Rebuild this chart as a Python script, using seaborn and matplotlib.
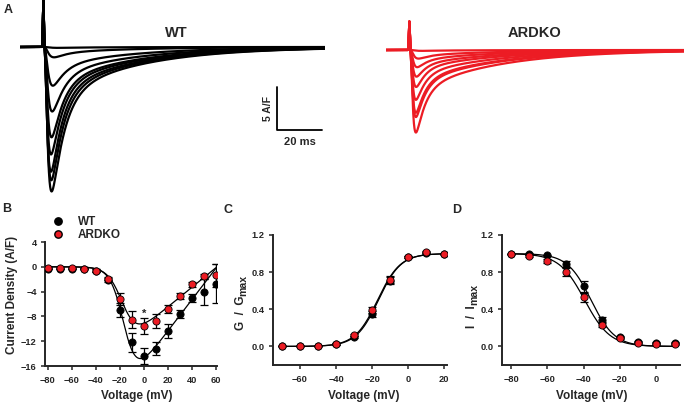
import numpy as np
import pandas as pd
import matplotlib
matplotlib.use('Agg')
import matplotlib.pyplot as plt
from matplotlib.lines import Line2D
import seaborn as sns

# ---- data ----
# A: representative Na+ current traces (peak A/F and kinetics per sweep)
wt_peak = [0.1, 1.2, 4.5, 7.5, 10.5, 12.5, 14.5, 15.5, 16.8]
wt_tau_act = [2.0, 1.5, 1.3, 1.2, 1.1, 1.0, 1.0, 1.05, 1.1]
wt_tau_fast = [8.0, 5.5, 5.3, 5.2, 5.0, 5.0, 5.0, 5.2, 5.4]
wt_slow_frac = [0.4, 0.32, 0.28, 0.25, 0.23, 0.22, 0.21, 0.21, 0.21]
ko_peak = [0.1, 1.0, 2.0, 3.1, 4.3, 5.8, 7.3, 7.8, 9.6]
ko_tau_act = [1.6, 1.2, 1.0, 0.9, 0.85, 0.8, 0.8, 0.8, 0.8]
ko_tau_fast = [7.0, 4.5, 4.2, 4.0, 4.0, 4.0, 4.0, 4.0, 4.0]
ko_slow_frac = [0.45, 0.38, 0.34, 0.32, 0.3, 0.3, 0.3, 0.3, 0.3]
tau_slow = 36.0
wt_artifact = 5.4
ko_artifact = 3.3
t_stim = 10.7

# B: I-V relationship
volt_iv = [-80, -70, -60, -50, -40, -30, -20, -10, 0, 10, 20, 30, 40, 50, 60]
wt_iv = [-0.3, -0.3, -0.3, -0.3, -0.6, -2.1, -7.0, -12.2, -14.4, -13.2, -10.4, -7.6, -5.0, -4.1, -2.7]
wt_iv_err = [0.1, 0.1, 0.1, 0.1, 0.2, 0.3, 1.1, 1.5, 1.3, 1.1, 1.1, 0.7, 0.6, 2.1, 3.2]
ko_iv = [-0.2, -0.2, -0.2, -0.3, -0.6, -1.9, -5.2, -8.5, -9.6, -8.7, -6.8, -4.7, -2.8, -1.5, -1.4]
ko_iv_err = [0.1, 0.1, 0.1, 0.1, 0.2, 0.3, 0.9, 1.3, 1.3, 1.1, 0.7, 0.5, 0.4, 0.4, 1.8]
wt_iv_fit = dict(g=0.253, erev=61, vh=-16, k=5.5)
ko_iv_fit = dict(g=0.158, erev=61, vh=-17, k=6.0)

# C: activation
volt_act = [-70, -60, -50, -40, -30, -20, -10, 0, 10, 20]
wt_act = [0.01, 0.01, 0.01, 0.03, 0.10, 0.35, 0.71, 0.96, 1.01, 1.00]
wt_act_err = [0.0, 0.0, 0.0, 0.01, 0.01, 0.03, 0.04, 0.01, 0.01, 0.0]
ko_act = [0.01, 0.01, 0.01, 0.03, 0.12, 0.39, 0.72, 0.96, 1.02, 1.00]
ko_act_err = [0.0, 0.0, 0.0, 0.01, 0.01, 0.03, 0.04, 0.01, 0.01, 0.0]
wt_act_fit = dict(vh=-16.5, k=6.2)
ko_act_fit = dict(vh=-17.0, k=6.3)

# D: steady-state inactivation
volt_inact = [-80, -70, -60, -50, -40, -30, -20, -10, 0, 10]
wt_inact = [1.0, 1.0, 0.98, 0.89, 0.65, 0.29, 0.10, 0.05, 0.04, 0.04]
wt_inact_err = [0.0, 0.01, 0.01, 0.03, 0.06, 0.03, 0.01, 0.01, 0.01, 0.01]
ko_inact = [1.0, 0.97, 0.92, 0.80, 0.53, 0.23, 0.09, 0.04, 0.03, 0.03]
ko_inact_err = [0.0, 0.01, 0.02, 0.04, 0.05, 0.02, 0.01, 0.01, 0.01, 0.01]
wt_inact_fit = dict(vh=-36, k=6.5)
ko_inact_fit = dict(vh=-39.5, k=7.0)

RED = '#ec1c24'
W, H = 685, 404

sns.set_style('ticks')
plt.rcParams['font.family'] = ['Liberation Sans', 'DejaVu Sans']
plt.rcParams['font.weight'] = 'bold'
plt.rcParams['axes.labelweight'] = 'bold'

fig = plt.figure(figsize=(W / 100, H / 100), dpi=100)


def box(l, t, r, b):
    return [l / W, 1 - b / H, (r - l) / W, (b - t) / H]


def ftext(x, y, s, **kw):
    # text placed in figure pixels (origin top-left)
    return fig.text(x / W, 1 - y / H, s, **kw)


def traces(peaks, tau_act, tau_fast, slow_frac, artifact, t_end):
    t = np.arange(0, t_end, 0.05)
    rows = []
    for i, amp in enumerate(peaks):
        s = np.clip(t - t_stim, 0, None)
        m = (1 - np.exp(-s / tau_act[i])) ** 3
        h = (1 - slow_frac[i]) * np.exp(-s / tau_fast[i]) + slow_frac[i] * np.exp(-s / tau_slow)
        wave = m * h
        wave = -amp * wave / wave.max()
        wave = wave + artifact * np.exp(-0.5 * ((t - t_stim + 0.3) / 0.2) ** 2)
        rows.append(pd.DataFrame({'t': t, 'I': wave, 'sweep': i}))
    return pd.concat(rows)


# ---- panel A ----
px_per_ms, px_per_af = 2.25, 8.6
axA1 = fig.add_axes(box(20, 0, 325, 200))
dfw = traces(wt_peak, wt_tau_act, wt_tau_fast, wt_slow_frac, wt_artifact, 305 / px_per_ms)
sns.lineplot(data=dfw, x='t', y='I', units='sweep', estimator=None, color='black',
             lw=1.6, ax=axA1, legend=False)
axA1.set_xlim(0, 305 / px_per_ms)
axA1.set_ylim(-153 / px_per_af, 47 / px_per_af)
axA1.axis('off')
# scale bar
xb = (277 - 20) / px_per_ms
yb = -(130 - 47) / px_per_af
axA1.plot([xb, xb, xb + 20], [yb + 5, yb, yb], color='black', lw=1.3, clip_on=False)
axA1.text(xb - 4, yb + 2.5, '5 A/F', rotation=90, ha='center', va='center', fontsize=7.5)
axA1.text(xb + 10, yb - 1.4, '20 ms', ha='center', va='center', fontsize=8)

axA2 = fig.add_axes(box(386, 0, 684, 200))
dfk = traces(ko_peak, ko_tau_act, ko_tau_fast, ko_slow_frac, ko_artifact, 298 / px_per_ms)
sns.lineplot(data=dfk, x='t', y='I', units='sweep', estimator=None, color=RED,
             lw=1.6, ax=axA2, legend=False)
axA2.set_xlim(0, 298 / px_per_ms)
axA2.set_ylim(-150 / px_per_af, 50 / px_per_af)
axA2.axis('off')

ftext(176, 33, 'WT', fontsize=10.5, ha='center', va='center')
ftext(535, 33, 'ARDKO', fontsize=10.5, ha='center', va='center')


# ---- helpers for B-D ----
def style_axis(ax):
    for side in ['top', 'right']:
        ax.spines[side].set_visible(False)
    for side in ['left', 'bottom']:
        ax.spines[side].set_linewidth(1.4)
    ax.tick_params(direction='out', length=3, width=1.1, labelsize=6.7)
    ax.tick_params(axis='x', pad=4.5)
    ax.tick_params(axis='y', pad=3)
    for lab in ax.get_xticklabels() + ax.get_yticklabels():
        lab.set_fontweight('bold')


def points(ax, x, y, err, color, z):
    ax.errorbar(x, y, yerr=err, fmt='none', ecolor='black', elinewidth=0.9,
                capsize=2.6, capthick=0.9, zorder=z)
    sns.scatterplot(x=x, y=y, color=color, edgecolor='black', linewidth=0.6,
                    s=27, zorder=z + 1, ax=ax, legend=False)


def iv(v, g, erev, vh, k):
    return g * (v - erev) / (1 + np.exp((vh - v) / k))


def sub_ylabel(x, y_bottom, main, sub):
    t1 = ftext(x, y_bottom, main, rotation=90, ha='center', va='bottom', fontsize=8.5)
    fig.canvas.draw()
    bb = t1.get_window_extent()
    fig.text((x + 2) / W, bb.y1 / H, sub, rotation=90, ha='center', va='bottom', fontsize=7.6)


# ---- panel B ----
axB = fig.add_axes(box(45, 242, 217, 366))
vf = np.linspace(-80, 60, 300)
axB.plot(vf, iv(vf, **wt_iv_fit), color='black', lw=0.9, zorder=2)
axB.plot(vf, iv(vf, **ko_iv_fit), color='black', lw=0.9, zorder=2)
points(axB, volt_iv, wt_iv, wt_iv_err, 'black', 3)
points(axB, volt_iv, ko_iv, ko_iv_err, RED, 5)
axB.text(0, -7.6, '*', ha='center', va='center', fontsize=8)
axB.set_xlim(-82.5, 61)
axB.set_ylim(-16, 4)
axB.set_xticks(range(-80, 61, 20))
axB.set_yticks(range(-16, 5, 4))
style_axis(axB)
ftext(137, 396, 'Voltage (mV)', fontsize=8.5, ha='center', va='center')
ftext(12, 295, 'Current Density (A/F)', fontsize=8.5, rotation=90, ha='center', va='center')

handles = [Line2D([], [], marker='o', ls='', color='black', mec='black', markersize=5.3),
           Line2D([], [], marker='o', ls='', color=RED, mec='black', markersize=5.3)]
fig.legend(handles, ['WT', 'ARDKO'], loc='upper left', frameon=False, fontsize=8.5,
           bbox_to_anchor=(46 / W, 1 - 210 / H), handletextpad=1.2,
           labelspacing=0.12, handlelength=1.0, borderpad=0)

# ---- panel C ----
axC = fig.add_axes(box(273, 235, 447, 365))
vf = np.linspace(-70, 22, 300)
for p in [wt_act_fit, ko_act_fit]:
    axC.plot(vf, 1 / (1 + np.exp((p['vh'] - vf) / p['k'])), color='black', lw=0.9, zorder=2)
points(axC, volt_act, wt_act, wt_act_err, 'black', 3)
points(axC, volt_act, ko_act, ko_act_err, RED, 5)
axC.set_xlim(-75, 21.5)
axC.set_ylim(-0.2, 1.2)
axC.set_xticks(range(-60, 21, 20))
axC.set_yticks([0.0, 0.4, 0.8, 1.2])
axC.set_yticklabels(['0.0', '0.4', '0.8', '1.2'])
style_axis(axC)
ftext(364, 396, 'Voltage (mV)', fontsize=8.5, ha='center', va='center')

# ---- panel D ----
axD = fig.add_axes(box(502, 235, 680, 365))
vf = np.linspace(-80, 12, 300)
for p in [wt_inact_fit, ko_inact_fit]:
    axD.plot(vf, 1 / (1 + np.exp((vf - p['vh']) / p['k'])), color='black', lw=0.9, zorder=2)
points(axD, volt_inact, wt_inact, wt_inact_err, 'black', 3)
points(axD, volt_inact, ko_inact, ko_inact_err, RED, 5)
axD.set_xlim(-85, 13)
axD.set_ylim(-0.2, 1.2)
axD.set_xticks(range(-80, 1, 20))
axD.set_yticks([0.0, 0.4, 0.8, 1.2])
axD.set_yticklabels(['0.0', '0.4', '0.8', '1.2'])
style_axis(axD)
ftext(592, 396, 'Voltage (mV)', fontsize=8.5, ha='center', va='center')

# panel letters
for letter, x, y in [('A', 8, 10), ('B', 7, 209), ('C', 228, 210), ('D', 457, 210)]:
    ftext(x, y, letter, fontsize=9, ha='center', va='center')

# y labels with near full-size subscripts
sub_ylabel(241, 330, 'G  /  G', 'max')
sub_ylabel(472, 328, 'I  /  I', 'max')

fig.savefig('out.png', dpi=100)
